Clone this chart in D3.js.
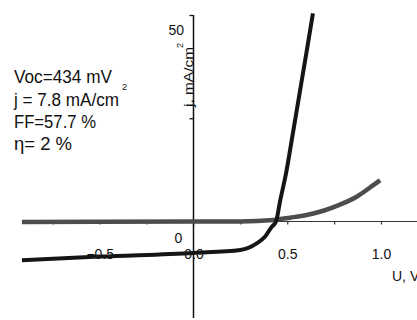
<!DOCTYPE html>
<html>
<head>
<meta charset="utf-8">
<script src="https://cdn.jsdelivr.net/npm/d3@7"></script>
<style>
  html, body { margin: 0; padding: 0; background: #fff; }
  svg { display: block; font-family: "Liberation Sans", Arial, sans-serif; }
</style>
</head>
<body>
<div id="chart"></div>
<script>
// illuminated curve (black) and dark curve (gray), U in V, j in mA/cm2
const litU = [-0.915, -0.5, 0, 0.25, 0.337, 0.381, 0.417, 0.44, 0.462, 0.495, 0.525, 0.562, 0.599, 0.637];
const litJ = [-9.4, -8.5, -7.6, -6.9, -5.3, -3.7, -1.3, 0, 5, 12, 20, 30, 40, 50.4];
const darkU = [-0.915, -0.5, 0, 0.248, 0.426, 0.515, 0.604, 0.692, 0.781, 0.87, 0.959, 0.995];
const darkJ = [-0.1, -0.05, 0, 0.02, 0.36, 0.92, 1.57, 2.6, 4.1, 6.0, 8.8, 10.0];

const xTicks = [-0.75, -0.5, -0.25, 0, 0.25, 0.5, 0.75, 1.0];
const xLabels = [-0.5, 0, 0.5, 1.0];
const yTicks = [25, 50];

const stats = ["Voc=434 mV", "j = 7.8 mA/cm", "FF=57.7 %", "\u03b7= 2 %"];

const width = 417, height = 320;

const svg = d3.select("#chart").append("svg")
  .attr("width", width)
  .attr("height", height);

const x = d3.scaleLinear().domain([-1, 1.2]).range([6, 6 + 2.2 * 187.5]);
const y = d3.scaleLinear().domain([-25, 50]).range([221.5 + 25 * 4.13, 15]);

// x axis
const xAxis = svg.append("g")
  .attr("transform", "translate(0," + y(0) + ")")
  .call(d3.axisBottom(x).tickValues(xTicks).tickSize(3).tickFormat(""));
xAxis.select(".domain").attr("d", "M" + x(0) + ",0H" + width)
  .attr("stroke", "#333").attr("stroke-width", 1.2);
xAxis.selectAll(".tick line").attr("stroke", "#333").attr("stroke-width", 1.2);

// x tick labels sit low, below the lower curve
svg.append("g")
  .attr("transform", "translate(0," + y(0) + ")")
  .call(d3.axisBottom(x).tickValues(xLabels).tickSize(0).tickPadding(28)
    .tickFormat(d3.format(".1f")))
  .call(g => g.select(".domain").remove())
  .selectAll("text")
  .attr("font-size", 14)
  .attr("font-family", "Liberation Sans, Arial, sans-serif")
  .attr("fill", "#111");

// y axis
const yAxis = svg.append("g")
  .attr("transform", "translate(" + x(0) + ",0)")
  .call(d3.axisLeft(y).tickValues(yTicks).tickSize(4).tickFormat(""));
yAxis.select(".domain").attr("d", "M0," + y(50) + "V318")
  .attr("stroke", "#111").attr("stroke-width", 1.5);
yAxis.selectAll(".tick line").attr("stroke", "#111").attr("stroke-width", 1.3);

svg.append("text")
  .attr("x", x(0) - 9.5).attr("y", y(50) + 20)
  .attr("text-anchor", "end")
  .attr("font-size", 14).attr("fill", "#111")
  .text("50");

svg.append("text")
  .attr("x", x(0) - 15).attr("y", y(0) + 21)
  .attr("text-anchor", "middle")
  .attr("font-size", 14).attr("fill", "#111")
  .text("0");

// y axis title, rotated
svg.append("text")
  .attr("transform", "translate(" + (x(0) - 0.5) + ",107) rotate(-90)")
  .attr("font-size", 12).attr("fill", "#111")
  .attr("textLength", 60).attr("lengthAdjust", "spacingAndGlyphs")
  .text("j, mA/cm");
svg.append("text")
  .attr("transform", "translate(" + (x(0) - 11) + ",48) rotate(-90)")
  .attr("font-size", 9).attr("fill", "#111")
  .text("2");

svg.append("text")
  .attr("x", 392).attr("y", 281)
  .attr("font-size", 14).attr("fill", "#111")
  .text("U, V");

// curves
const line = d3.line()
  .x(d => x(d[0]))
  .y(d => y(d[1]))
  .curve(d3.curveMonotoneX);

svg.append("path")
  .datum(d3.zip(darkU, darkJ))
  .attr("d", line)
  .attr("fill", "none")
  .attr("stroke", "#4d4d4d")
  .attr("stroke-width", 4.5);

svg.append("path")
  .datum(d3.zip(litU, litJ))
  .attr("d", line)
  .attr("fill", "none")
  .attr("stroke", "#151515")
  .attr("stroke-width", 4);

// parameter block
const statW = [98, 105, 82, 58];
const statY = [83, 105.5, 128, 150];
svg.append("g").selectAll("text")
  .data(stats)
  .join("text")
  .attr("x", 14)
  .attr("y", (d, i) => statY[i])
  .attr("font-size", 18)
  .attr("fill", "#111")
  .attr("textLength", (d, i) => statW[i])
  .attr("lengthAdjust", "spacingAndGlyphs")
  .text(d => d);
svg.append("text")
  .attr("x", 122).attr("y", 90)
  .attr("font-size", 9).attr("fill", "#111")
  .text("2");
</script>
</body>
</html>
